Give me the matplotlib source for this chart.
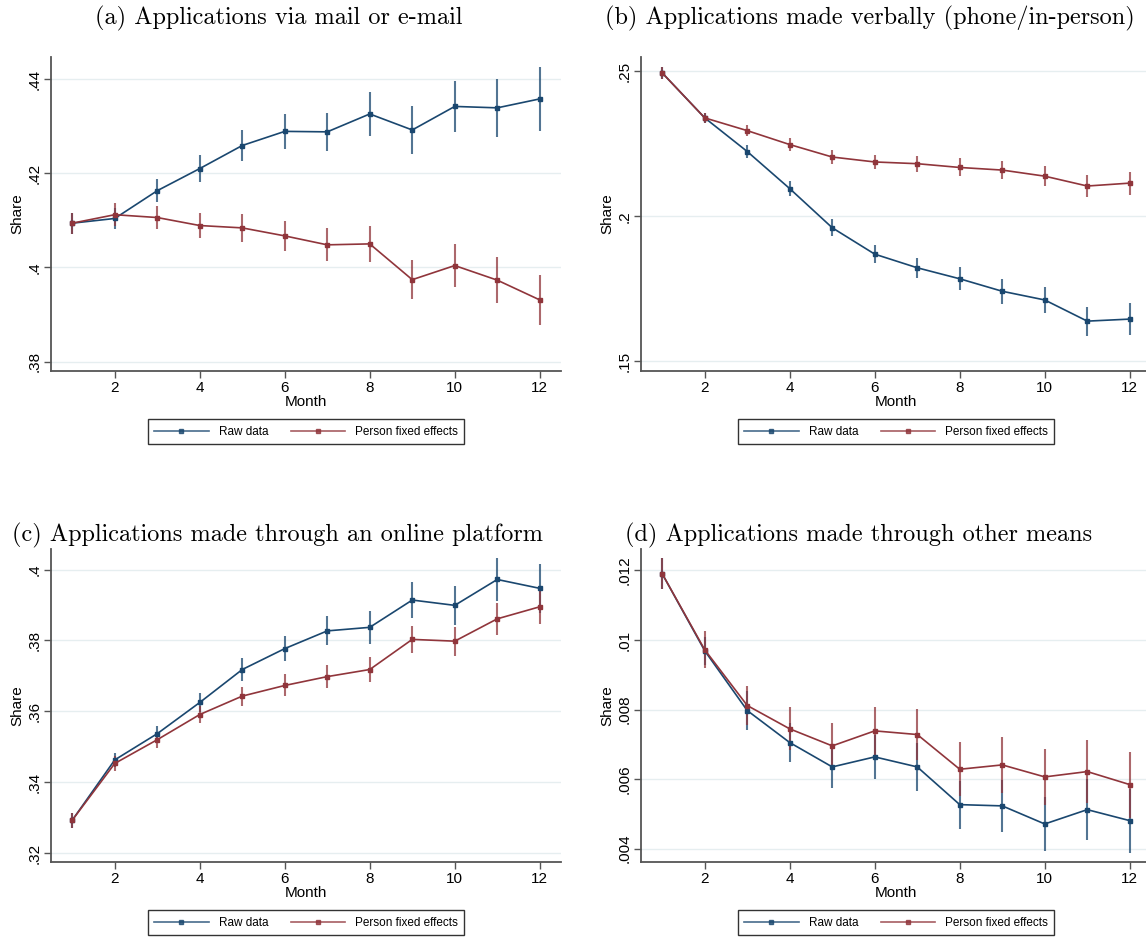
import numpy as np
import matplotlib
matplotlib.use("Agg")
import matplotlib.pyplot as plt
from matplotlib.lines import Line2D

MONTHS = np.arange(1, 13)

# (a) mail / e-mail
A_RAW = [.4094, .4104, .4163, .4210, .4259, .4289, .4288, .4326, .4292, .4342, .4339, .4358]
A_RAW_ERR = [.0022, .0022, .0025, .0029, .0033, .0037, .0041, .0046, .0051, .0055, .0061, .0068]
A_FE = [.4094, .4112, .4106, .4089, .4084, .4067, .4048, .4050, .3974, .4004, .3973, .3931]
A_FE_ERR = [.0022, .0025, .0025, .0027, .0030, .0032, .0035, .0038, .0042, .0045, .0049, .0053]

# (b) verbally
B_RAW = [.2495, .2340, .2224, .2096, .1961, .1870, .1823, .1785, .1742, .1712, .1639, .1646]
B_RAW_ERR = [.0021, .0017, .0022, .0025, .0029, .0032, .0035, .0039, .0043, .0046, .0050, .0055]
B_FE = [.2495, .2340, .2296, .2248, .2205, .2188, .2182, .2169, .2160, .2139, .2105, .2115]
B_FE_ERR = [.0021, .0017, .0020, .0021, .0024, .0025, .0028, .0031, .0032, .0035, .0037, .0040]

# (c) online platform
C_RAW = [.3293, .3463, .3537, .3625, .3718, .3777, .3827, .3837, .3914, .3899, .3972, .3947]
C_RAW_ERR = [.0021, .0019, .0023, .0027, .0033, .0036, .0041, .0046, .0051, .0056, .0062, .0069]
C_FE = [.3293, .3453, .3520, .3591, .3643, .3673, .3698, .3718, .3803, .3798, .3861, .3895]
C_FE_ERR = [.0021, .0021, .0023, .0025, .0027, .0031, .0033, .0035, .0038, .0041, .0046, .0049]

# (d) other means
D_RAW = [.01190, .009688, .007971, .00705, .00635, .006638, .00635, .005266, .00523, .00471, .005122, .004806]
D_RAW_ERR = [.00045, .00040, .00055, .00056, .00060, .00064, .00070, .00069, .00075, .00077, .00088, .00092]
D_FE = [.01190, .009717, .008115, .007444, .006955, .007386, .007281, .006283, .006408, .006063, .006216, .005842]
D_FE_ERR = [.00045, .00053, .00057, .00062, .00065, .00070, .00074, .00077, .00081, .00081, .00091, .00095]

TITLES = ["(a) Applications via mail or e-mail",
          "(b) Applications made verbally (phone/in-person)",
          "(c) Applications made through an online platform",
          "(d) Applications made through other means"]
YTICKS = [[.38, .40, .42, .44], [.15, .20, .25], [.32, .34, .36, .38, .40],
          [.004, .006, .008, .010, .012]]
YTICKLABELS = [[".38", ".4", ".42", ".44"], [".15", ".2", ".25"],
               [".32", ".34", ".36", ".38", ".4"],
               [".004", ".006", ".008", ".01", ".012"]]
YLIMS = [(0.378, 0.4447), (0.1467, 0.255), (0.3175, 0.4058), (0.003617, 0.012614)]

NAVY = "#1a476f"
MAROON = "#90353b"
GRID = "#e6eef0"
AXCOL = "#555555"

plt.rcParams["font.family"] = ["Liberation Sans", "DejaVu Sans"]

W, H = 1146, 940
fig = plt.figure(figsize=(W / 100, H / 100), dpi=100)

# axes boxes in pixels: left, top, right, bottom
BOXES = [(51, 57, 561, 371), (641, 57, 1151, 371),
         (51, 549, 561, 862), (641, 549, 1151, 862)]
TITLE_POS = [(279, 18), (870, 18), (278, 535), (859, 535)]

data = [(A_RAW, A_RAW_ERR, A_FE, A_FE_ERR), (B_RAW, B_RAW_ERR, B_FE, B_FE_ERR),
        (C_RAW, C_RAW_ERR, C_FE, C_FE_ERR), (D_RAW, D_RAW_ERR, D_FE, D_FE_ERR)]

for i, (raw, raw_err, fe, fe_err) in enumerate(data):
    l, t, r, b = BOXES[i]
    ax = fig.add_axes([l / W, 1 - b / H, (r - l) / W, (b - t) / H])
    ax.set_xlim(0.5, 12.5)
    ax.set_ylim(*YLIMS[i])
    for y in YTICKS[i]:
        ax.axhline(y, color=GRID, lw=1.0, zorder=0)
    ax.vlines(MONTHS, np.array(raw) - raw_err, np.array(raw) + raw_err,
              color=NAVY, alpha=0.75, lw=1.5, zorder=2)
    ax.vlines(MONTHS, np.array(fe) - fe_err, np.array(fe) + fe_err,
              color=MAROON, alpha=0.75, lw=1.5, zorder=2)
    ax.plot(MONTHS, raw, color=NAVY, lw=1.2, marker="s", ms=3.3, zorder=3)
    ax.plot(MONTHS, fe, color=MAROON, lw=1.2, marker="s", ms=3.3, zorder=3)

    ax.set_xticks([2, 4, 6, 8, 10, 12])
    ax.set_yticks(YTICKS[i])
    ax.set_yticklabels(YTICKLABELS[i], rotation=90, va="center")
    ax.tick_params(labelsize=11, length=5, width=1, color=AXCOL, pad=2)
    for s in ["top", "right"]:
        ax.spines[s].set_visible(False)
    for s in ["left", "bottom"]:
        ax.spines[s].set_color(AXCOL)
        ax.spines[s].set_linewidth(1.3)
    ax.set_xlabel("Month", fontsize=11, labelpad=0)
    ax.set_ylabel("Share", fontsize=11, labelpad=2)

    handles = [Line2D([], [], color=NAVY, lw=1.2, marker="s", ms=3, alpha=0.8),
               Line2D([], [], color=MAROON, lw=1.2, marker="s", ms=3, alpha=0.8)]
    leg = ax.legend(handles, ["Raw data", "Person fixed effects"], ncol=2,
                    loc="center", bbox_to_anchor=(0.5, -0.194), fontsize=8.5,
                    frameon=True, fancybox=False, edgecolor="black",
                    handlelength=4.6, columnspacing=1.9, handletextpad=0.85,
                    borderpad=0.55, borderaxespad=0)
    leg.get_frame().set_linewidth(1.0)

    x, y = TITLE_POS[i]
    fig.text(x / W, 1 - y / H, TITLES[i], family="cmr10", fontsize=17.5,
             ha="center", va="center")

fig.savefig("out.png", dpi=100)
